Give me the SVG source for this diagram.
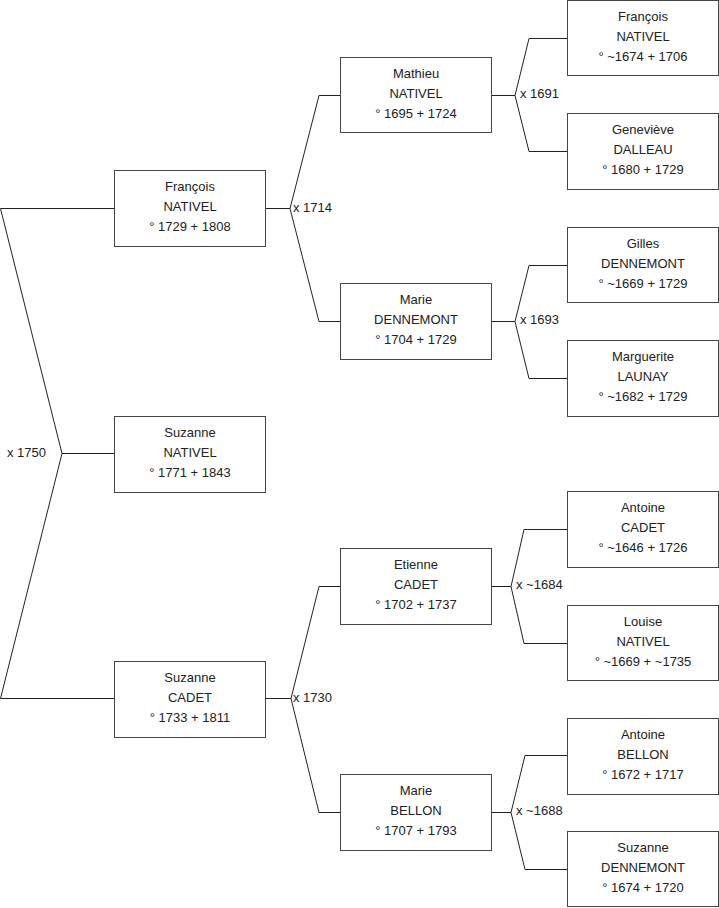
<svg xmlns="http://www.w3.org/2000/svg" width="719" height="908" viewBox="0 0 719 908">
<style>
.box{fill:#fff;stroke:#444;stroke-width:1}
.t{font-family:"Liberation Sans",Arial,sans-serif;font-size:13px;fill:#222;text-anchor:middle}
.lbl{font-family:"Liberation Sans",Arial,sans-serif;font-size:13px;fill:#222;dominant-baseline:central}
.c{fill:none;stroke:#222;stroke-width:1}
</style>
<rect width="719" height="908" fill="#fff"/>
<g id="connectors">
<polyline class="c" points="114,208.5 0.5,208.5 62,453.5 0.5,698.5 114,698.5"/>
<line class="c" x1="62" y1="453.5" x2="114" y2="453.5"/>
<text class="lbl" x="7" y="452">x 1750</text>
<polyline class="c" points="265,208.5 290,208.5"/>
<polyline class="c" points="340,95.5 319,95.5 290,208.5 319,321.5 340,321.5"/>
<text class="lbl" x="293" y="207">x 1714</text>
<polyline class="c" points="265,698.5 291,698.5"/>
<polyline class="c" points="340,586.5 319,586.5 291,698.5 319,812.5 340,812.5"/>
<text class="lbl" x="293" y="697">x 1730</text>
<polyline class="c" points="492,95.5 515,95.5"/>
<polyline class="c" points="567,38.5 529,38.5 515,95.5 529,151.5 567,151.5"/>
<text class="lbl" x="520" y="93">x 1691</text>
<polyline class="c" points="492,321.5 515,321.5"/>
<polyline class="c" points="567,265.5 529,265.5 515,321.5 529,378.5 567,378.5"/>
<text class="lbl" x="520" y="319">x 1693</text>
<polyline class="c" points="492,586.5 511,586.5"/>
<polyline class="c" points="567,529.5 524,529.5 511,586.5 524,643.5 567,643.5"/>
<text class="lbl" x="516" y="584">x ~1684</text>
<polyline class="c" points="492,812.5 511,812.5"/>
<polyline class="c" points="567,755.5 525,755.5 511,812.5 525,869.5 567,869.5"/>
<text class="lbl" x="516" y="810">x ~1688</text>
</g>
<g id="francois-nativel-1729">
<rect class="box" x="114.5" y="170.5" width="151" height="76"/>
<text class="t" x="190" y="191">François</text><text class="t" x="190" y="211">NATIVEL</text><text class="t" x="190" y="231">° 1729 + 1808</text>
</g>
<g id="suzanne-nativel-1771">
<rect class="box" x="114.5" y="416.5" width="151" height="76"/>
<text class="t" x="190" y="437">Suzanne</text><text class="t" x="190" y="457">NATIVEL</text><text class="t" x="190" y="477">° 1771 + 1843</text>
</g>
<g id="suzanne-cadet-1733">
<rect class="box" x="114.5" y="661.5" width="151" height="76"/>
<text class="t" x="190" y="682">Suzanne</text><text class="t" x="190" y="702">CADET</text><text class="t" x="190" y="722">° 1733 + 1811</text>
</g>
<g id="mathieu-nativel-1695">
<rect class="box" x="340.5" y="57.5" width="151" height="75"/>
<text class="t" x="416" y="78">Mathieu</text><text class="t" x="416" y="98">NATIVEL</text><text class="t" x="416" y="118">° 1695 + 1724</text>
</g>
<g id="marie-dennemont-1704">
<rect class="box" x="340.5" y="283.5" width="151" height="76"/>
<text class="t" x="416" y="304">Marie</text><text class="t" x="416" y="324">DENNEMONT</text><text class="t" x="416" y="344">° 1704 + 1729</text>
</g>
<g id="etienne-cadet-1702">
<rect class="box" x="340.5" y="548.5" width="151" height="76"/>
<text class="t" x="416" y="569">Etienne</text><text class="t" x="416" y="589">CADET</text><text class="t" x="416" y="609">° 1702 + 1737</text>
</g>
<g id="marie-bellon-1707">
<rect class="box" x="340.5" y="774.5" width="151" height="76"/>
<text class="t" x="416" y="795">Marie</text><text class="t" x="416" y="815">BELLON</text><text class="t" x="416" y="835">° 1707 + 1793</text>
</g>
<g id="francois-nativel-1674">
<rect class="box" x="567.5" y="0.5" width="151" height="75"/>
<text class="t" x="643" y="21">François</text><text class="t" x="643" y="41">NATIVEL</text><text class="t" x="643" y="61">° ~1674 + 1706</text>
</g>
<g id="genevieve-dalleau-1680">
<rect class="box" x="567.5" y="113.5" width="151" height="76"/>
<text class="t" x="643" y="134">Geneviève</text><text class="t" x="643" y="154">DALLEAU</text><text class="t" x="643" y="174">° 1680 + 1729</text>
</g>
<g id="gilles-dennemont-1669">
<rect class="box" x="567.5" y="227.5" width="151" height="75"/>
<text class="t" x="643" y="248">Gilles</text><text class="t" x="643" y="268">DENNEMONT</text><text class="t" x="643" y="288">° ~1669 + 1729</text>
</g>
<g id="marguerite-launay-1682">
<rect class="box" x="567.5" y="340.5" width="151" height="76"/>
<text class="t" x="643" y="361">Marguerite</text><text class="t" x="643" y="381">LAUNAY</text><text class="t" x="643" y="401">° ~1682 + 1729</text>
</g>
<g id="antoine-cadet-1646">
<rect class="box" x="567.5" y="491.5" width="151" height="76"/>
<text class="t" x="643" y="512">Antoine</text><text class="t" x="643" y="532">CADET</text><text class="t" x="643" y="552">° ~1646 + 1726</text>
</g>
<g id="louise-nativel-1669">
<rect class="box" x="567.5" y="605.5" width="151" height="75"/>
<text class="t" x="643" y="626">Louise</text><text class="t" x="643" y="646">NATIVEL</text><text class="t" x="643" y="666">° ~1669 + ~1735</text>
</g>
<g id="antoine-bellon-1672">
<rect class="box" x="567.5" y="718.5" width="151" height="76"/>
<text class="t" x="643" y="739">Antoine</text><text class="t" x="643" y="759">BELLON</text><text class="t" x="643" y="779">° 1672 + 1717</text>
</g>
<g id="suzanne-dennemont-1674">
<rect class="box" x="567.5" y="831.5" width="151" height="75"/>
<text class="t" x="643" y="852">Suzanne</text><text class="t" x="643" y="872">DENNEMONT</text><text class="t" x="643" y="892">° 1674 + 1720</text>
</g>
</svg>
